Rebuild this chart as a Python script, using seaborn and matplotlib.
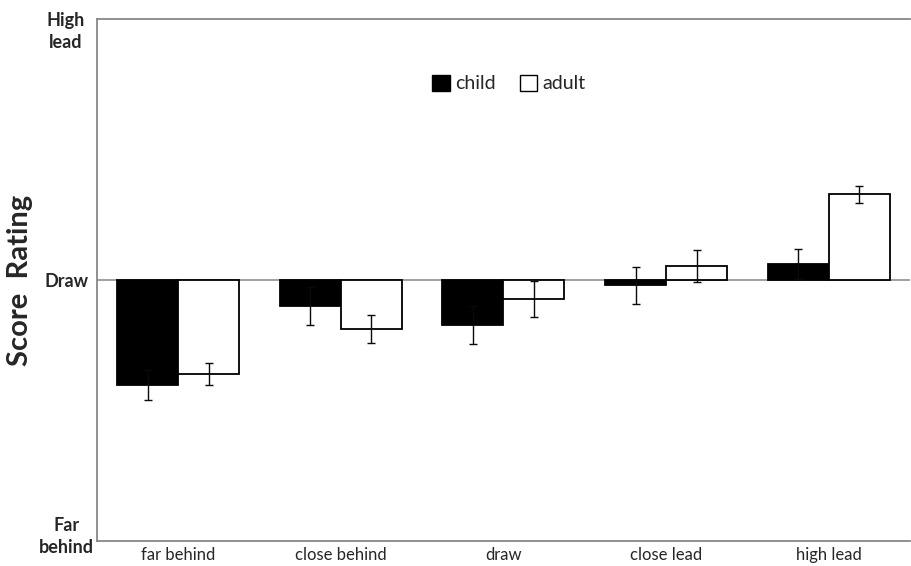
import numpy as np
import pandas as pd
import matplotlib
matplotlib.use("Agg")
import matplotlib.pyplot as plt
import matplotlib.transforms as mtransforms
import seaborn as sns

# ==========================================
# Data (score rating, Draw = 0, scale -4 .. 4)
# ==========================================
categories = ["far behind", "close behind", "draw", "close lead", "high lead"]
groups = ["child", "adult"]
child_mean = [-1.61, -0.40, -0.69, -0.08, 0.25]
adult_mean = [-1.44, -0.75, -0.29, 0.22, 1.32]
child_err = [0.23, 0.29, 0.29, 0.28, 0.23]
adult_err = [0.17, 0.21, 0.27, 0.25, 0.13]

ytick_pos = [-4, -3, -2, -1, 0, 1, 2, 3, 4]
ytick_labels = ["Far\nbehind", "", "", "", "Draw", "", "", "", "High\nlead"]

df = pd.DataFrame({
    "situation": categories * 2,
    "group": ["child"] * 5 + ["adult"] * 5,
    "score": child_mean + adult_mean,
})

sns.set_style("white")
plt.rcParams["font.family"] = ["Lato", "DejaVu Sans"]

fig = plt.figure(figsize=(9.12, 5.66), dpi=100)
ax = fig.add_axes([0.106, 0.044, 0.892, 0.922])

sns.barplot(data=df, x="situation", y="score", hue="group", order=categories,
            hue_order=groups, palette={"child": "black", "adult": "white"},
            edgecolor="black", linewidth=1.3, width=0.75, errorbar=None, ax=ax,
            zorder=3)

# error bars on top of each bar
for cont, errs in zip(ax.containers, [child_err, adult_err]):
    xs = [b.get_x() + b.get_width() / 2 for b in cont]
    vals = [b.get_height() + b.get_y() for b in cont]
    ax.errorbar(xs, vals, yerr=errs, fmt="none", ecolor="#0a0a0a",
                elinewidth=1.0, capsize=3, capthick=1.0, zorder=4)

ax.axhline(0, color="#999999", lw=1.3, zorder=2)

ax.set_xlim(-0.5, 4.5)
ax.set_ylim(-4, 4)
ax.set_yticks(ytick_pos)
ax.set_yticklabels(ytick_labels, fontweight="bold", fontsize=13, ha="center",
                   linespacing=1.35)
ax.tick_params(axis="y", direction="in", length=4, color="#888888", pad=22)
ax.tick_params(axis="x", length=0, labelsize=12, pad=4)
ax.set_xlabel("")
ax.set_ylabel("Score  Rating", fontsize=21, fontweight="bold", labelpad=4)

# nudge the end labels inward a bit, like the original
labels = ax.get_yticklabels()
labels[0].set_transform(labels[0].get_transform() +
                        mtransforms.ScaledTranslation(0, 6 / 72, fig.dpi_scale_trans))
labels[-1].set_transform(labels[-1].get_transform() +
                         mtransforms.ScaledTranslation(0, -6 / 72, fig.dpi_scale_trans))

for side in ["left", "top", "bottom"]:
    ax.spines[side].set_color("#888888")
    ax.spines[side].set_linewidth(1.3)
ax.spines["right"].set_visible(False)

leg = ax.legend(loc="center", bbox_to_anchor=(0.507, 0.877), ncol=2, frameon=False,
                fontsize=14, handlelength=0.9, handleheight=0.9, handletextpad=0.3,
                columnspacing=1.2)
for h in leg.legend_handles:
    h.set_edgecolor("black")
    h.set_linewidth(1.0)

fig.savefig("out.png", dpi=100)
